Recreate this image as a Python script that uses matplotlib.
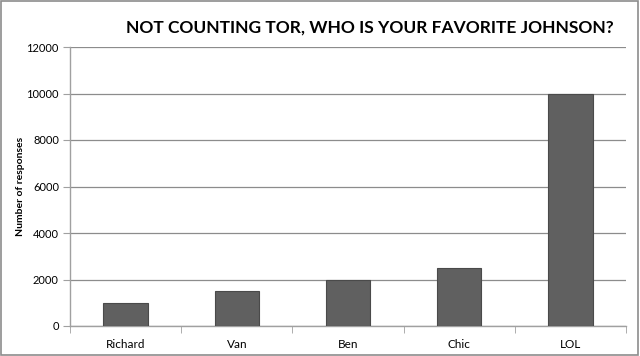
import matplotlib.pyplot as plt
from matplotlib.patches import Rectangle

names = ['Richard', 'Van', 'Ben', 'Chic', 'LOL']
responses = [1000, 1500, 2000, 2500, 10000]

plt.rcParams['font.family'] = ['Lato', 'DejaVu Sans']

fig = plt.figure(figsize=(6.4, 3.56), dpi=100)
ax = fig.add_axes([70 / 640, 1 - 326 / 356, 556 / 640, 279 / 356])

ax.bar(range(len(names)), responses, width=0.4, color='#606060',
       edgecolor='#4a4a4a', linewidth=0.8, zorder=3)

ax.set_xlim(-0.5, len(names) - 0.5)
ax.set_ylim(0, 12000)
ax.set_yticks(range(0, 12001, 2000))
ax.yaxis.grid(True, color='#8c8c8c', linewidth=0.9)
ax.set_axisbelow(True)

ax.set_xticks(range(len(names)))
ax.set_xticklabels(names)
ax.set_xticks([i + 0.5 for i in range(-1, len(names))], minor=True)
ax.tick_params(axis='x', which='major', length=0, pad=9, labelsize=8.5)
ax.tick_params(axis='x', which='minor', length=5, color='#a0a0a0', direction='out')
ax.tick_params(axis='y', length=5, color='#a0a0a0', labelsize=8, pad=3)

for side in ['top', 'right']:
    ax.spines[side].set_visible(False)
for side in ['left', 'bottom']:
    ax.spines[side].set_color('#a0a0a0')
    ax.spines[side].set_linewidth(1.0)

ax.set_ylabel('Number of responses', fontsize=7.5, fontweight='bold')
ax.yaxis.set_label_coords(-45 / 556, 0.5)
fig.text(370 / 640, 1 - 28 / 356, 'NOT COUNTING TOR, WHO IS YOUR FAVORITE JOHNSON?',
         ha='center', va='center', fontsize=12.5, fontweight='bold')

fig.patches.append(Rectangle((0.002, 0.003), 0.995, 0.994, transform=fig.transFigure,
                             fill=False, edgecolor='#8c8c8c', linewidth=1.2))

fig.savefig('out.png', dpi=100)
